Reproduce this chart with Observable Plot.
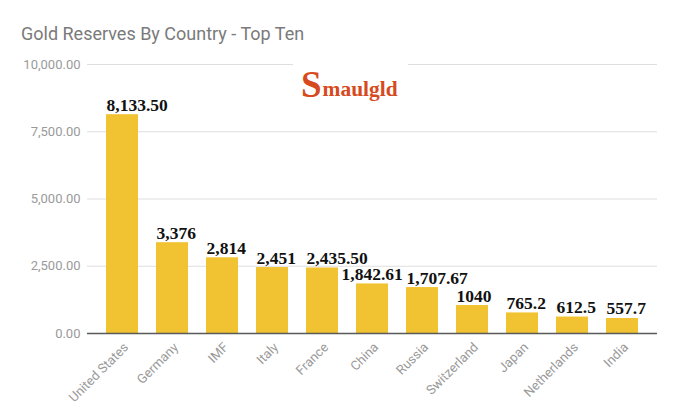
<!DOCTYPE html>
<html><head><meta charset="utf-8">
<script src="https://cdn.jsdelivr.net/npm/d3@7"></script>
<script src="https://cdn.jsdelivr.net/npm/@observablehq/plot@0.6"></script>
<style>
body{margin:0;background:#fff;width:681px;height:414px;overflow:hidden;font-family:Roboto,sans-serif;position:relative}
#title{position:absolute;left:21px;top:25px;font-size:18px;line-height:1;color:#7a7a7a;white-space:nowrap}
#chart{position:absolute;left:0;top:48px}
#logo{position:absolute;left:293px;top:58px}
</style></head>
<body>
<div id="title">Gold Reserves By Country - Top Ten</div>
<div id="chart"></div>
<svg id="logo" width="115" height="56" viewBox="0 0 115 56">
  <rect width="115" height="56" fill="#fff"></rect>
  <text x="8" y="39" fill="#d64a1e" font-family="Liberation Serif, serif" font-weight="bold"><tspan font-size="37">S</tspan><tspan font-size="20" dx="1" textLength="75" lengthAdjust="spacingAndGlyphs" dy="-1">maulgld</tspan></text>
</svg>
<script>
const countries = ["United States","Germany","IMF","Italy","France","China","Russia","Switzerland","Japan","Netherlands","India"];
const reserves = [8133.5, 3376, 2814, 2451, 2435.5, 1842.61, 1707.67, 1040, 765.2, 612.5, 557.7];
const valueLabels = ["8,133.50","3,376","2,814","2,451","2,435.50","1,842.61","1,707.67","1040","765.2","612.5","557.7"];
const yTicks = [0, 2500, 5000, 7500, 10000];

const data = countries.map((c, i) => ({country: c, value: reserves[i], label: valueLabels[i]}));
const fmt = d3.format(",.2f");

const labelStyle = {x: "country", y: "value", text: "label", textAnchor: "start", lineAnchor: "bottom", dy: -4, fill: "#111", fontSize: 17.5, fontWeight: "bold", fontFamily: "Liberation Serif, serif"};

const chart = Plot.plot({
  width: 681,
  height: 366,
  marginLeft: 87,
  marginRight: 24,
  marginTop: 16,
  marginBottom: 81,
  style: {fontFamily: "Roboto, sans-serif", background: "#fff"},
  x: {domain: countries, padding: 0.36, label: null},
  y: {domain: [0, 10000], label: null},
  marks: [
    Plot.gridY(yTicks.slice(1), {stroke: "#dedede", strokeOpacity: 1}),
    Plot.axisY(yTicks, {tickSize: 0, tickPadding: 7, tickFormat: fmt, fill: "#9a9a9a", fontSize: 13, label: null}),
    Plot.axisX({tickSize: 0, tickPadding: 8, tickRotate: -45, lineAnchor: "top", fill: "#9a9a9a", fontSize: 13, label: null}),
    Plot.barY(data, {x: "country", y: "value", fill: "#f1c232"}),
    Plot.ruleY([0], {stroke: "#5a5a5a", strokeWidth: 1.5}),
    Plot.text(data.filter(d => d.country !== "China"), {...labelStyle, dx: -16}),
    Plot.text(data.filter(d => d.country === "China"), {...labelStyle, dx: -31})
  ]
});
document.getElementById("chart").appendChild(chart);
</script>
</body></html>
